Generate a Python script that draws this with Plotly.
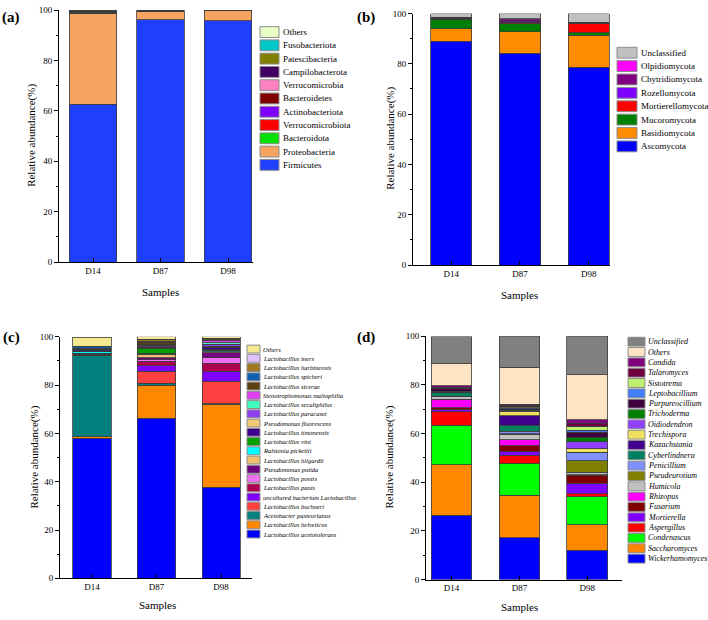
import plotly.graph_objects as go

W, H = 708, 620
SERIF = "Liberation Serif"

samples = ["D14", "D87", "D98"]

# (a) bacterial phyla, stack order bottom -> top
phylum_names = ["Firmicutes", "Proteobacteria", "Bacteroidota", "Verrucomicrobiota",
                "Actinobacteriota", "Bacteroidetes", "Verrucomicrobia", "Campilobacterota",
                "Patescibacteria", "Fusobacteriota", "Others"]
phylum_colors = ["#1f3fff", "#f4a460", "#00e000", "#ff0000", "#8000ff", "#800000",
                 "#ff80c0", "#400060", "#808000", "#00c8c8", "#e8ffc8"]
phylum_d14 = [62.6, 36.0, 0.2, 0.1, 0.2, 0.3, 0.1, 0.3, 0.1, 0.05, 0.05]
phylum_d87 = [96.3, 3.2, 0.1, 0.05, 0.1, 0.05, 0.05, 0.05, 0.05, 0.02, 0.03]
phylum_d98 = [95.8, 4.0, 0.05, 0.02, 0.03, 0.02, 0.02, 0.02, 0.02, 0.01, 0.01]

# (b) fungal phyla
fphylum_names = ["Ascomycota", "Basidiomycota", "Mucoromycota", "Mortierellomycota",
                 "Rozellomycota", "Chytridiomycota", "Olpidiomycota", "Unclassified"]
fphylum_colors = ["#0000ff", "#ff8c00", "#008000", "#ff0000", "#8000ff", "#800080",
                  "#ff00ff", "#c0c0c0"]
fphylum_d14 = [89.0, 4.9, 3.9, 0.3, 0.1, 0.3, 0.1, 1.4]
fphylum_d87 = [84.2, 8.5, 3.3, 0.4, 0.5, 0.7, 0.3, 2.1]
fphylum_d98 = [78.6, 12.8, 0.9, 3.9, 0.1, 0.1, 0.05, 3.55]

# (c) bacterial species
species_names = ["Lactobacillus acetotolerans", "Lactobacillus helveticus",
                 "Acetobacter pasteurianus", "Lactobacillus buchneri",
                 "uncultured bacterium Lactobacillus", "Lactobacillus panis",
                 "Lactobacillus pontis", "Pseudomonas putida", "Lactobacillus hilgardii",
                 "Ralstonia pickettii", "Lactobacillus vini", "Lactobacillus timonensis",
                 "Pseudomonas fluorescens", "Lactobacillus paracasei",
                 "Lactobacillus secaliphilus", "Stenotrophomonas maltophilia",
                 "Lactobacillus sicerae", "Lactobacillus spicheri",
                 "Lactobacillus harbinensis", "Lactobacillus iners", "Others"]
species_colors = ["#0000ff", "#ff8800", "#008080", "#ff4040", "#8000ff", "#b00050",
                  "#f070f0", "#700080", "#f0c070", "#00ffff", "#00a000", "#400090",
                  "#f0c878", "#9040f0", "#40ffc0", "#e040f0", "#604010", "#1060b0",
                  "#a07820", "#e0c0ff", "#f5e991"]
species_d14 = [58.0, 0.7, 33.7, 0.2, 0.1, 0.1, 0.1, 0.2, 0.1, 0.6, 0.1, 0.6,
               0.1, 0.1, 0.1, 0.1, 0.4, 0.6, 0.2, 0.1, 3.7]
species_d87 = [66.2, 13.7, 0.9, 4.9, 2.3, 1.8, 0.7, 0.9, 1.4, 0.4, 2.0, 0.5,
               0.3, 0.3, 0.2, 0.3, 1.0, 0.3, 0.8, 0.2, 0.9]
species_d98 = [37.8, 34.1, 0.3, 9.4, 4.1, 3.4, 2.3, 2.1, 0.4, 0.3, 0.5, 1.0,
               0.5, 0.8, 0.6, 0.8, 0.3, 0.2, 0.3, 0.3, 0.5]

# (d) fungal genera
genus_names = ["Wickerhamomyces", "Saccharomyces", "Condenascus", "Aspergillus",
               "Mortierella", "Fusarium", "Rhizopus", "Humicola", "Pseudeurotium",
               "Penicillium", "Cyberlindnera", "Kazachstania", "Trechispora",
               "Oidiodendron", "Trichoderma", "Purpureocillium", "Leptobacillium",
               "Sistotrema", "Talaromyces", "Candida", "Others", "Unclassified"]
genus_colors = ["#0000ff", "#ff8800", "#00ff00", "#ff0000", "#8000ff", "#800000",
                "#ff00ff", "#c0c0c0", "#808000", "#8090ff", "#008060", "#400090",
                "#f0e060", "#9040ff", "#008000", "#400040", "#4080ff", "#c0f070",
                "#700040", "#800080", "#ffe4c4", "#808080"]
genus_d14 = [26.5, 20.6, 16.4, 5.5, 0.8, 0.8, 3.6, 0.9, 0.1, 0.1, 1.4, 0.3,
             0.1, 0.1, 0.2, 1.0, 0.1, 0.1, 0.4, 0.7, 9.0, 11.2]
genus_d87 = [17.1, 17.5, 13.2, 3.4, 1.6, 2.3, 2.4, 2.3, 0.1, 1.0, 2.5, 4.0,
             1.6, 0.3, 0.5, 0.4, 0.5, 0.3, 0.6, 0.5, 15.1, 12.8]
genus_d98 = [12.0, 10.5, 11.5, 1.3, 4.3, 3.3, 0.2, 1.0, 4.7, 3.4, 0.1, 0.1,
             1.4, 2.8, 1.6, 2.3, 0.8, 1.8, 1.2, 1.3, 18.6, 15.8]


def fx(px):
    return px / W


def fy(py):
    return 1 - py / H


fig = go.Figure()


def add_bars(n, names, colors, per_sample, width):
    suffix = "" if n == 1 else str(n)
    for i, name in enumerate(names):
        fig.add_trace(go.Bar(
            x=samples, y=[s[i] for s in per_sample], name=name,
            width=width, showlegend=False,
            marker=dict(color=colors[i], line=dict(color="#3c3c3c", width=0.8)),
            xaxis="x" + suffix, yaxis="y" + suffix,
        ))


def axes(xdom, xrange, ydom):
    xa = dict(domain=[fx(xdom[0]), fx(xdom[1])], range=xrange, showline=True,
              linecolor="black", linewidth=1, ticks="inside", ticklen=4,
              tickcolor="black", showgrid=False, zeroline=False,
              tickfont=dict(family=SERIF, size=9, color="black"))
    ya = dict(domain=[fy(ydom[1]), fy(ydom[0])], range=[0, 100], tick0=0, dtick=20,
              showline=True, linecolor="black", linewidth=1, ticks="outside",
              ticklen=4, tickcolor="black", showgrid=False, zeroline=False,
              minor=dict(ticks="outside", ticklen=2, dtick=10, tick0=0, tickcolor="black"),
              tickfont=dict(family=SERIF, size=9, color="black"))
    return xa, ya


def add_legend(names, colors, x0, x1, top, pitch, h, tx, size, italic):
    for k, i in enumerate(reversed(range(len(names)))):
        y0 = top + k * pitch
        fig.add_shape(type="rect", xref="paper", yref="paper",
                      x0=fx(x0), x1=fx(x1), y0=fy(y0), y1=fy(y0 + h),
                      fillcolor=colors[i], line=dict(color="#8c8c8c", width=1))
        label = "<i>%s</i>" % names[i] if italic else names[i]
        fig.add_annotation(x=fx(tx), y=fy(y0 + h / 2), xref="paper", yref="paper",
                           text=label, showarrow=False, xanchor="left", yanchor="middle",
                           font=dict(family=SERIF, size=size, color="black"))


def add_text(x, y, text, size, bold=False, rotate=0):
    fig.add_annotation(x=fx(x), y=fy(y), xref="paper", yref="paper",
                       text="<b>%s</b>" % text if bold else text, showarrow=False,
                       textangle=rotate, xanchor="center", yanchor="middle",
                       font=dict(family=SERIF, size=size, color="black"))


add_bars(1, phylum_names, phylum_colors, [phylum_d14, phylum_d87, phylum_d98], 0.70)
add_bars(2, fphylum_names, fphylum_colors, [fphylum_d14, fphylum_d87, fphylum_d98], 0.60)
add_bars(3, species_names, species_colors, [species_d14, species_d87, species_d98], 0.59)
add_bars(4, genus_names, genus_colors, [genus_d14, genus_d87, genus_d98], 0.60)

xa1, ya1 = axes((59, 253), [-0.504, 2.37], (5.3, 261.3))
xa2, ya2 = axes((413, 610), [-0.555, 2.31], (8.7, 264.3))
xa3, ya3 = axes((60, 252), [-0.496, 2.48], (337.3, 582.7))
xa4, ya4 = axes((426, 622), [-0.375, 2.51], (336.7, 584))
xa1["anchor"], ya1["anchor"] = "y", "x"
xa2["anchor"], ya2["anchor"] = "y2", "x2"
xa3["anchor"], ya3["anchor"] = "y3", "x3"
xa4["anchor"], ya4["anchor"] = "y4", "x4"

add_legend(phylum_names, phylum_colors, 260, 279, 22, 13.5, 11, 281, 9, False)
add_legend(fphylum_names, fphylum_colors, 617, 637, 43, 13.6, 11, 639, 9, False)
add_legend(species_names, species_colors, 247, 260, 345.7, 9.4, 8, 261, 6.5, True)
add_legend(genus_names, genus_colors, 628, 645, 337.7, 10.5, 9, 646, 8, True)

add_text(32, 133, "Relative abundance(%)", 11, rotate=-90)
add_text(391, 136, "Relative abundance(%)", 11, rotate=-90)
add_text(35, 460, "Relative abundance(%)", 11, rotate=-90)
add_text(390, 460, "Relative abundance(%)", 11, rotate=-90)
add_text(160, 292, "Samples", 11)
add_text(519, 295, "Samples", 11)
add_text(157, 610, "Samples", 11)
add_text(519, 612, "Samples", 11)
add_text(11, 13, "(a)", 15, bold=True)
add_text(366, 13, "(b)", 15, bold=True)
add_text(11, 338, "(c)", 15, bold=True)
add_text(366, 338, "(d)", 15, bold=True)

fig.update_layout(
    width=W, height=H,
    margin=dict(l=0, r=0, t=0, b=0),
    barmode="stack",
    plot_bgcolor="white",
    paper_bgcolor="white",
    font=dict(family=SERIF, color="black"),
    xaxis=xa1, yaxis=ya1,
    xaxis2=xa2, yaxis2=ya2,
    xaxis3=xa3, yaxis3=ya3,
    xaxis4=xa4, yaxis4=ya4,
)

# page body margin would push the 708x620 figure out of the window
fig.write_html("out.html", config={"displayModeBar": False},
               post_script="document.body.style.margin='0';"
               "document.body.style.overflow='hidden';")
